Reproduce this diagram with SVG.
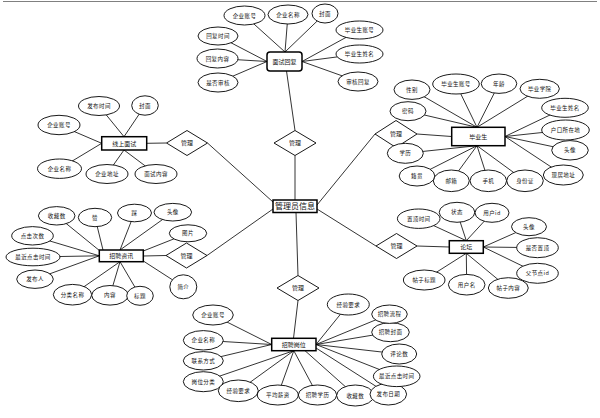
<svg xmlns="http://www.w3.org/2000/svg" width="600" height="418" viewBox="0 0 600 418">
<style>
.c line{stroke:#000;stroke-width:0.8}
ellipse{fill:#fff;stroke:#000;stroke-width:0.9}
.b{fill:#fff;stroke:#000;stroke-width:1.5}
.d{fill:#fff;stroke:#000;stroke-width:0.9}
text{font-family:"Noto Sans CJK SC","Noto Sans",sans-serif;text-anchor:middle;fill:#111}
.a{font-size:5.5px;letter-spacing:0.4px}
.n{font-size:6px}
.m{font-size:6px}
.big{font-size:8px}
</style>
<rect width="600" height="418" fill="#fff"/>
<line x1="3" y1="1.5" x2="597" y2="1.5" stroke="#808080" stroke-width="1"/>
<g id="connectors" class="c">
<line x1="286.5" y1="71" x2="295" y2="130.5"/>
<line x1="295" y1="155.5" x2="295" y2="200"/>
<line x1="317" y1="205" x2="375" y2="134"/>
<line x1="417" y1="134" x2="451.7" y2="136.5"/>
<line x1="317" y1="209" x2="376" y2="246"/>
<line x1="417" y1="246" x2="449.3" y2="247"/>
<line x1="296" y1="212.5" x2="298" y2="275.5"/>
<line x1="298" y1="300.5" x2="293.5" y2="338.3"/>
<line x1="207.5" y1="143" x2="273" y2="202"/>
<line x1="146.7" y1="143.3" x2="166.5" y2="143"/>
<line x1="207" y1="255.5" x2="273" y2="209"/>
<line x1="143.3" y1="256" x2="166" y2="255.5"/>
<!-- 面试回复 -->
<line x1="244.5" y1="15.5" x2="285" y2="52"/>
<line x1="288" y1="14.5" x2="285" y2="52"/>
<line x1="325" y1="13.5" x2="285" y2="52"/>
<line x1="218" y1="36" x2="267" y2="61.5"/>
<line x1="217.5" y1="58.5" x2="267" y2="61.5"/>
<line x1="218" y1="82.5" x2="267" y2="61.5"/>
<line x1="359.5" y1="30" x2="302" y2="61.5"/>
<line x1="359.5" y1="54" x2="302" y2="61.5"/>
<line x1="358" y1="81.5" x2="302" y2="61.5"/>
<!-- 毕业生 -->
<line x1="412" y1="89.7" x2="477" y2="127.3"/>
<line x1="456" y1="84" x2="477" y2="127.3"/>
<line x1="499" y1="83.7" x2="477" y2="127.3"/>
<line x1="539.7" y1="88.8" x2="477" y2="127.3"/>
<line x1="408" y1="111.2" x2="477" y2="127.3"/>
<line x1="405.3" y1="153.3" x2="477" y2="145.7"/>
<line x1="417" y1="176" x2="477" y2="145.7"/>
<line x1="451.3" y1="180.8" x2="477" y2="145.7"/>
<line x1="488.3" y1="180.8" x2="477" y2="145.7"/>
<line x1="525" y1="180.8" x2="477" y2="145.7"/>
<line x1="565" y1="107.8" x2="505" y2="136.5"/>
<line x1="565.5" y1="130" x2="505" y2="136.5"/>
<line x1="570" y1="150.3" x2="505" y2="136.5"/>
<line x1="563.3" y1="175" x2="505" y2="136.5"/>
<!-- 线上面试 -->
<line x1="99" y1="106" x2="124" y2="136.7"/>
<line x1="145" y1="105.5" x2="124" y2="136.7"/>
<line x1="59" y1="125" x2="101.7" y2="143.3"/>
<line x1="59.5" y1="168.7" x2="101.7" y2="143.3"/>
<line x1="107" y1="174" x2="124" y2="150"/>
<line x1="156" y1="174" x2="124" y2="150"/>
<!-- 招聘资讯 -->
<line x1="56.7" y1="215.8" x2="100" y2="251"/>
<line x1="95" y1="217.5" x2="103" y2="250"/>
<line x1="134.5" y1="213" x2="120" y2="250"/>
<line x1="172.8" y1="212.2" x2="120" y2="250"/>
<line x1="188" y1="233.3" x2="143.3" y2="251"/>
<line x1="32.5" y1="235.8" x2="99.3" y2="255.8"/>
<line x1="33" y1="257" x2="99.3" y2="255.8"/>
<line x1="35" y1="279.2" x2="99.3" y2="255.8"/>
<line x1="72.5" y1="294.7" x2="120" y2="261.7"/>
<line x1="110" y1="295.3" x2="120" y2="261.7"/>
<line x1="140" y1="295.8" x2="120" y2="261.7"/>
<line x1="183.3" y1="286.8" x2="143.3" y2="261"/>
<!-- 论坛 -->
<line x1="418.7" y1="218.7" x2="466.3" y2="240.7"/>
<line x1="457" y1="212.3" x2="466.3" y2="240.7"/>
<line x1="492" y1="212.8" x2="466.3" y2="240.7"/>
<line x1="529" y1="226.7" x2="483.3" y2="247"/>
<line x1="537.5" y1="247.7" x2="483.3" y2="247"/>
<line x1="537.5" y1="273.3" x2="483.3" y2="247"/>
<line x1="508.3" y1="288" x2="466.3" y2="253.3"/>
<line x1="466.7" y1="284.7" x2="466.3" y2="253.3"/>
<line x1="424.2" y1="280" x2="466.3" y2="253.3"/>
<!-- 招聘岗位 -->
<line x1="213" y1="315" x2="271.7" y2="344.5"/>
<line x1="203.3" y1="340.3" x2="271.7" y2="344.5"/>
<line x1="203.3" y1="360.8" x2="271.7" y2="344.5"/>
<line x1="203.3" y1="381.7" x2="293.8" y2="350.7"/>
<line x1="238.3" y1="390.8" x2="293.8" y2="350.7"/>
<line x1="277.8" y1="395" x2="293.8" y2="350.7"/>
<line x1="317.5" y1="395" x2="293.8" y2="350.7"/>
<line x1="355.3" y1="395.5" x2="305" y2="350.7"/>
<line x1="388.3" y1="394.2" x2="316" y2="348"/>
<line x1="396.7" y1="376.3" x2="316" y2="344.5"/>
<line x1="399.2" y1="354" x2="316" y2="344.5"/>
<line x1="390.5" y1="332.2" x2="316" y2="344.5"/>
<line x1="389.5" y1="314.2" x2="316" y2="344.5"/>
<line x1="348.3" y1="304.5" x2="316" y2="344.5"/>
</g>

<g id="admin"><rect class="b" x="273" y="200" width="44" height="12.5"/><text class="big" x="295" y="209.3">管理员信息</text></g>

<g id="rel-top"><polygon class="d" points="274,143 295,130.5 316,143 295,155.5"/><text class="m" x="295" y="145.2">管理</text></g>
<g id="rel-right1"><polygon class="d" points="375,134 396,120.5 417,134 396,147.5"/><text class="m" x="396" y="136.2">管理</text></g>
<g id="rel-right2"><polygon class="d" points="376,246 396.5,233.5 417,246 396.5,258.5"/><text class="m" x="396.5" y="248.2">管理</text></g>
<g id="rel-bottom"><polygon class="d" points="277,288 298,275.5 319,288 298,300.5"/><text class="m" x="298" y="290.2">管理</text></g>
<g id="rel-left1"><polygon class="d" points="166.5,143 187,130.5 207.5,143 187,155.5"/><text class="m" x="187" y="145.2">管理</text></g>
<g id="rel-left2"><polygon class="d" points="166,255.5 186.5,243 207,255.5 186.5,268"/><text class="m" x="186.5" y="257.7">管理</text></g>

<g id="interview-reply">
<rect class="b" x="267" y="52" width="35" height="19" rx="3"/><text class="n" x="284.5" y="63.6">面试回复</text>
<ellipse cx="244.5" cy="15.5" rx="20.5" ry="9.5"/><text class="a" x="244.5" y="17.5">企业账号</text>
<ellipse cx="288" cy="14.5" rx="20" ry="9.5"/><text class="a" x="288" y="16.5">企业名称</text>
<ellipse cx="325" cy="13.5" rx="13" ry="9.5"/><text class="a" x="325" y="15.5">封面</text>
<ellipse cx="359.5" cy="30" rx="23.5" ry="9"/><text class="a" x="359.5" y="32">毕业生账号</text>
<ellipse cx="359.5" cy="54" rx="23.5" ry="9"/><text class="a" x="359.5" y="56">毕业生姓名</text>
<ellipse cx="358" cy="81.5" rx="20" ry="9.5"/><text class="a" x="358" y="83.5">审核回复</text>
<ellipse cx="218" cy="36" rx="20" ry="9"/><text class="a" x="218" y="38">回复时间</text>
<ellipse cx="217.5" cy="58.5" rx="20.5" ry="9.5"/><text class="a" x="217.5" y="60.5">回复内容</text>
<ellipse cx="218" cy="82.5" rx="20" ry="9.5"/><text class="a" x="218" y="84.5">是否审核</text>
</g>

<g id="graduate">
<rect class="b" x="451.7" y="127.3" width="53.3" height="18.4"/><text class="n" x="478.3" y="138.6">毕业生</text>
<ellipse cx="412" cy="89.7" rx="18" ry="9.7"/><text class="a" x="412" y="91.7">性别</text>
<ellipse cx="456" cy="84" rx="23.3" ry="10"/><text class="a" x="456" y="86">毕业生账号</text>
<ellipse cx="499" cy="83.7" rx="17.8" ry="9.7"/><text class="a" x="499" y="85.7">年龄</text>
<ellipse cx="539.7" cy="88.8" rx="19.7" ry="9.5"/><text class="a" x="539.7" y="90.8">毕业学院</text>
<ellipse cx="565" cy="107.8" rx="23.3" ry="9.5"/><text class="a" x="565" y="109.8">毕业生姓名</text>
<ellipse cx="565.5" cy="130" rx="23.8" ry="10"/><text class="a" x="565.5" y="132">户口所在地</text>
<ellipse cx="570" cy="150.3" rx="18.3" ry="9.7"/><text class="a" x="570" y="152.3">头像</text>
<ellipse cx="563.3" cy="175" rx="20" ry="10"/><text class="a" x="563.3" y="177">现居地址</text>
<ellipse cx="525" cy="180.8" rx="18.3" ry="10.8"/><text class="a" x="525" y="182.8">身份证</text>
<ellipse cx="488.3" cy="180.8" rx="18.3" ry="10.8"/><text class="a" x="488.3" y="182.8">手机</text>
<ellipse cx="451.3" cy="180.8" rx="18" ry="10.8"/><text class="a" x="451.3" y="182.8">邮箱</text>
<ellipse cx="417" cy="176" rx="17.8" ry="10"/><text class="a" x="417" y="178">籍贯</text>
<ellipse cx="405.3" cy="153.3" rx="18" ry="10"/><text class="a" x="405.3" y="155.3">学历</text>
<ellipse cx="408" cy="111.2" rx="18" ry="9.5"/><text class="a" x="408" y="113.2">密码</text>
</g>

<g id="online-interview">
<rect class="b" x="101.7" y="136.7" width="45" height="13.3"/><text class="n" x="124.2" y="145.5">线上面试</text>
<ellipse cx="99" cy="106" rx="20.5" ry="9.5"/><text class="a" x="99" y="108">发布时间</text>
<ellipse cx="145" cy="105.5" rx="13.3" ry="9.7"/><text class="a" x="145" y="107.5">封面</text>
<ellipse cx="59" cy="125" rx="21" ry="9.7"/><text class="a" x="59" y="127">企业账号</text>
<ellipse cx="59.5" cy="168.7" rx="22" ry="9.7"/><text class="a" x="59.5" y="170.7">企业名称</text>
<ellipse cx="107" cy="174" rx="21" ry="9.5"/><text class="a" x="107" y="176">企业地址</text>
<ellipse cx="156" cy="174" rx="21" ry="9.5"/><text class="a" x="156" y="176">面试内容</text>
</g>

<g id="recruit-news">
<rect class="b" x="99.3" y="250" width="44" height="11.7"/><text class="n" x="121.3" y="258">招聘资讯</text>
<ellipse cx="56.7" cy="215.8" rx="18.3" ry="9.2"/><text class="a" x="56.7" y="217.8">收藏数</text>
<ellipse cx="95" cy="217.5" rx="16.7" ry="9.2"/><text class="a" x="95" y="219.5">赞</text>
<ellipse cx="134.5" cy="213" rx="17" ry="8.8"/><text class="a" x="134.5" y="215">踩</text>
<ellipse cx="172.8" cy="212.2" rx="18.8" ry="8.8"/><text class="a" x="172.8" y="214.2">头像</text>
<ellipse cx="188" cy="233.3" rx="18.7" ry="8.5"/><text class="a" x="188" y="235.3">图片</text>
<ellipse cx="32.5" cy="235.8" rx="20.8" ry="9.2"/><text class="a" x="32.5" y="237.8">点击次数</text>
<ellipse cx="33" cy="257" rx="27" ry="8.8"/><text class="a" x="33" y="259">最近点击时间</text>
<ellipse cx="35" cy="279.2" rx="18.3" ry="9.2"/><text class="a" x="35" y="281.2">发布人</text>
<ellipse cx="72.5" cy="294.7" rx="19.2" ry="10.3"/><text class="a" x="72.5" y="296.7">分类名称</text>
<ellipse cx="110" cy="295.3" rx="18.3" ry="9.8"/><text class="a" x="110" y="297.3">内容</text>
<ellipse cx="140" cy="295.8" rx="13.3" ry="9.5"/><text class="a" x="140" y="297.8">标题</text>
<ellipse cx="183.3" cy="286.8" rx="13.5" ry="12"/><text class="a" x="183.3" y="288.8">简介</text>
</g>

<g id="forum">
<rect class="b" x="449.3" y="240.7" width="34" height="12.6"/><text class="n" x="466.3" y="249.2">论坛</text>
<ellipse cx="418.7" cy="218.7" rx="21.3" ry="9.7"/><text class="a" x="418.7" y="220.7">置顶时间</text>
<ellipse cx="457" cy="212.3" rx="17.8" ry="10"/><text class="a" x="457" y="214.3">状态</text>
<ellipse cx="492" cy="212.8" rx="17" ry="9.5"/><text class="a" x="492" y="214.8">用户id</text>
<ellipse cx="529" cy="226.7" rx="17.5" ry="9"/><text class="a" x="529" y="228.7">头像</text>
<ellipse cx="537.5" cy="247.7" rx="20.8" ry="10"/><text class="a" x="537.5" y="249.7">是否置顶</text>
<ellipse cx="537.5" cy="273.3" rx="20.8" ry="10"/><text class="a" x="537.5" y="275.3">父节点id</text>
<ellipse cx="508.3" cy="288" rx="20" ry="10.3"/><text class="a" x="508.3" y="290">帖子内容</text>
<ellipse cx="466.7" cy="284.7" rx="18.3" ry="10.3"/><text class="a" x="466.7" y="286.7">用户名</text>
<ellipse cx="424.2" cy="280" rx="20.8" ry="10"/><text class="a" x="424.2" y="282">帖子标题</text>
</g>

<g id="recruit-post">
<rect class="b" x="271.7" y="338.3" width="44.3" height="12.4"/><text class="n" x="293.8" y="346.7">招聘岗位</text>
<ellipse cx="213" cy="315" rx="20.3" ry="10"/><text class="a" x="213" y="317">企业账号</text>
<ellipse cx="203.3" cy="340.3" rx="20" ry="9.7"/><text class="a" x="203.3" y="342.3">企业名称</text>
<ellipse cx="203.3" cy="360.8" rx="20" ry="9.2"/><text class="a" x="203.3" y="362.8">联系方式</text>
<ellipse cx="203.3" cy="381.7" rx="20" ry="10"/><text class="a" x="203.3" y="383.7">岗位分类</text>
<ellipse cx="238.3" cy="390.8" rx="20" ry="10.8"/><text class="a" x="238.3" y="392.8">经验要求</text>
<ellipse cx="277.8" cy="395" rx="20.5" ry="10"/><text class="a" x="277.8" y="397">平均薪资</text>
<ellipse cx="317.5" cy="395" rx="19.2" ry="10"/><text class="a" x="317.5" y="397">招聘学历</text>
<ellipse cx="355.3" cy="395.5" rx="18.7" ry="10.5"/><text class="a" x="355.3" y="397.5">收藏数</text>
<ellipse cx="388.3" cy="394.2" rx="18.3" ry="10.8"/><text class="a" x="388.3" y="396.2">发布日期</text>
<ellipse cx="396.7" cy="376.3" rx="23.3" ry="10.3"/><text class="a" x="396.7" y="378.3">最近点击时间</text>
<ellipse cx="399.2" cy="354" rx="17.5" ry="10"/><text class="a" x="399.2" y="356">评论数</text>
<ellipse cx="390.5" cy="332.2" rx="18.8" ry="9.5"/><text class="a" x="390.5" y="334.2">招聘封面</text>
<ellipse cx="389.5" cy="314.2" rx="17.8" ry="9.2"/><text class="a" x="389.5" y="316.2">招聘流程</text>
<ellipse cx="348.3" cy="304.5" rx="21" ry="10.5"/><text class="a" x="348.3" y="306.5">经验要求</text>
</g>
</svg>
